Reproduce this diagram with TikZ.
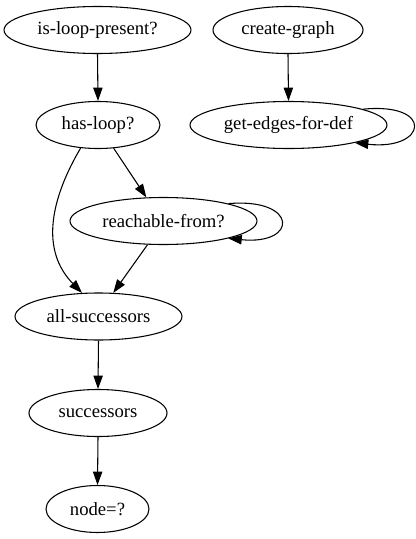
\documentclass[tikz,border=0pt]{standalone}
\usepackage{fontspec}
\setmainfont{Liberation Serif}
\usetikzlibrary{arrows.meta,shapes.geometric}
\begin{document}
\begin{tikzpicture}[x=0.75pt,y=-0.75pt,
  nd/.style={draw,ellipse,inner sep=0pt,minimum height=35.25pt,line width=0.8pt,font=\fontsize{14pt}{16pt}\selectfont},
  arr/.style={draw,line width=0.8pt,-{Triangle[length=10pt,width=7pt]}}]
\useasboundingbox (0,0) rectangle (416,539);
\node[nd,minimum width=140.25pt] (ilp) at (97.5,30) {is-loop-present?};
\node[nd,minimum width=112.5pt] (cg) at (288,30) {create-graph};
\node[nd,minimum width=93pt] (hl) at (98,125) {has-loop?};
\node[nd,minimum width=147.75pt] (ged) at (288.5,125) {get-edges-for-def};
\node[nd,minimum width=140.25pt] (rf) at (163.5,221) {reachable-from?};
\node[nd,minimum width=125.25pt] (as) at (98.5,316.5) {all-successors};
\node[nd,minimum width=103.5pt] (s) at (98,413) {successors};
\node[nd,minimum width=77.25pt] (n) at (97.5,509) {node=?};
\draw[arr] (ilp.south) -- (hl.north);
\draw[arr] (cg.south) -- (ged.north);
\draw[arr] (ged.12) .. controls +(72,-7) and +(72,8) .. (ged.-15);
\draw[arr] (hl.-56) -- (rf.126);
\draw[arr] (hl.233) .. controls +(-30,51) and +(-42,-43) .. (as.125);
\draw[arr] (rf.15) .. controls +(70,-6) and +(70,7) .. (rf.-15);
\draw[arr] (rf.236) -- (as.58);
\draw[arr] (as.south) -- (s.north);
\draw[arr] (s.south) -- (n.north);
\end{tikzpicture}
\end{document}
